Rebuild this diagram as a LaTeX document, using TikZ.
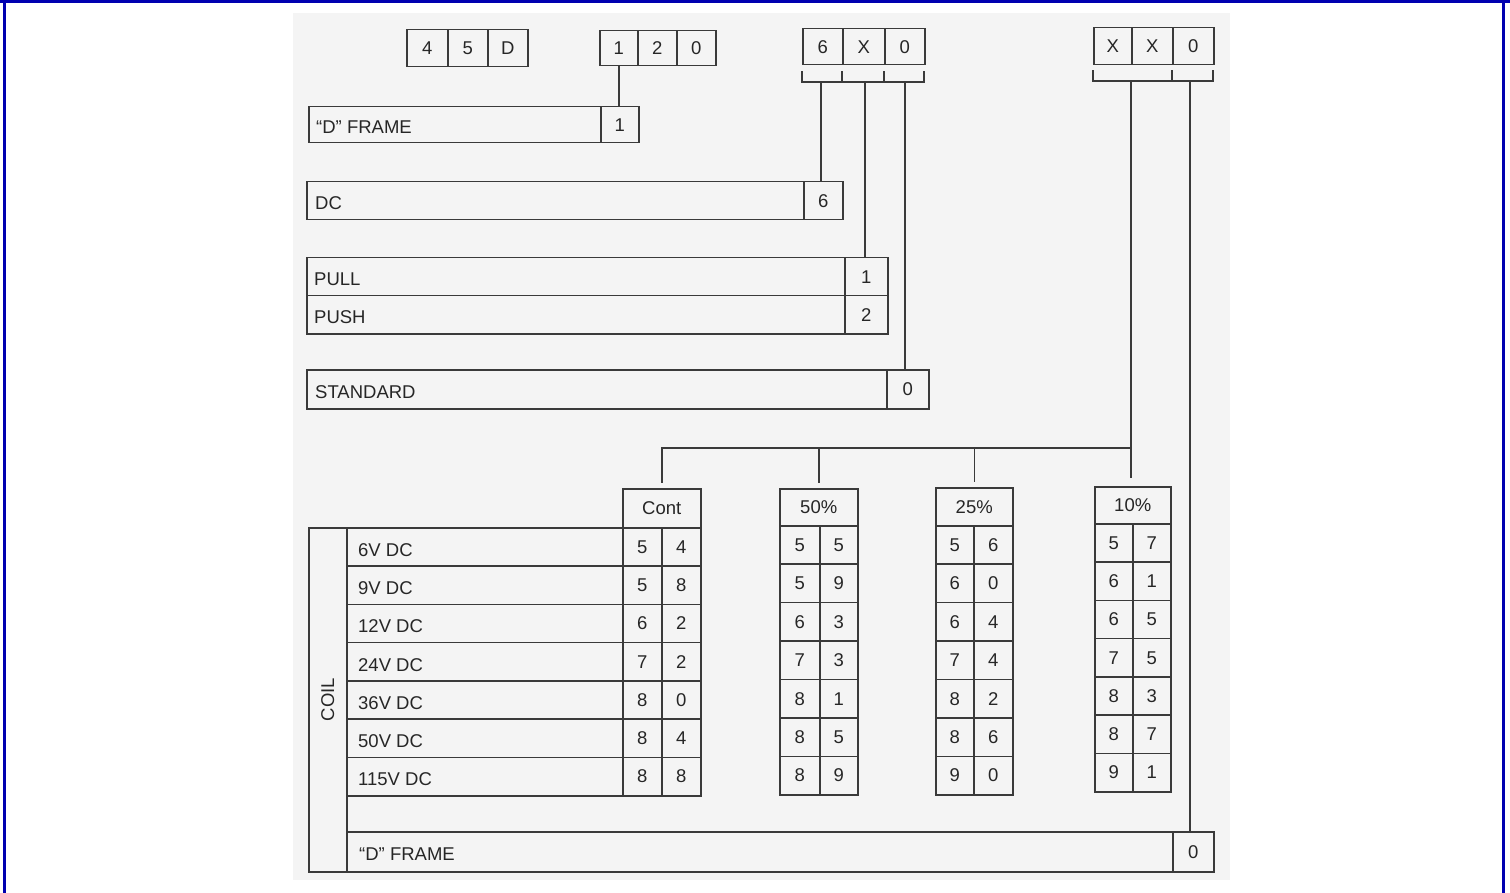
\documentclass[tikz,border=0pt]{standalone}
\usepackage{fontspec}
\setmainfont{Liberation Sans}
\definecolor{ink}{HTML}{3A3A3A}
\definecolor{textink}{HTML}{262626}
\definecolor{frameblue}{HTML}{0000B0}
\definecolor{paper}{HTML}{F4F4F4}
\tikzset{
  wire/.style={draw=ink, line width=1.5pt, line cap=rect},
  cell/.style={draw=ink, line width=1.5pt, rectangle, inner sep=0pt, anchor=north west,
    text=textink, font=\fontsize{18.5}{20}\selectfont},
  lab/.style={text=textink, inner sep=0pt, anchor=west, font=\fontsize{18.5}{20}\selectfont},
}
% box from (x1,y1) to (x2,y2), named #1, text #6
\newcommand\cbox[6]{\node[cell, minimum width={(#4)-(#2)}, minimum height={(#5)-(#3)}] (#1) at (#2,#3) {#6};}
% data table: name, x1, xmid, x2, top, header bottom, bottom, header, pairs
\newcommand\dtable[9]{%
  \cbox{#1h}{#2}{#5}{#4}{#6}{#8}
  \foreach \va/\vb [count=\i from 0] in {#9} {
    \pgfmathsetmacro\ya{#6+\i*(#7-#6)/7}
    \pgfmathsetmacro\yb{#6+(\i+1)*(#7-#6)/7}
    \cbox{#1-\i-a}{#2}{\ya}{#3}{\yb}{\va}
    \cbox{#1-\i-b}{#3}{\ya}{#4}{\yb}{\vb}
  }}
\begin{document}
\begin{tikzpicture}[x=1pt,y=-1pt]
\useasboundingbox (0,0) rectangle (1510,893);
% background and frame
\fill[white] (0,0) rectangle (1510,893);
\fill[paper] (293,13) rectangle (1230,880);
\fill[frameblue] (0,0) rectangle (1510,3);
\fill[frameblue] (3,0) rectangle (6,893);
\fill[frameblue] (1502,0) rectangle (1505,893);

% top code boxes
\cbox{b1a}{406}{29}{447}{66}{4}
\cbox{b1b}{447}{29}{487}{66}{5}
\cbox{b1c}{487}{29}{527}{66}{D}
\cbox{b2a}{599}{30}{637}{65}{1}
\cbox{b2b}{637}{30}{676}{65}{2}
\cbox{b2c}{676}{30}{715}{65}{0}
\cbox{b3a}{802}{28}{842}{64}{6}
\cbox{b3b}{842}{28}{884}{64}{X}
\cbox{b3c}{884}{28}{924}{64}{0}
\cbox{b4a}{1093}{27}{1131}{64}{X}
\cbox{b4b}{1131}{27}{1172}{64}{X}
\cbox{b4c}{1172}{27}{1213}{64}{0}

% brackets
\coordinate (br3) at (802,82);
\coordinate (br4) at (1093,81);
\draw[wire] (802,72) -- (br3) -- (924,82) -- (924,72);
\draw[wire] (842,72) -- (842,82);
\draw[wire] (884,72) -- (884,82);
\draw[wire] (1093,71) -- (br4) -- (1213,81) -- (1213,71);
\draw[wire] (1172,71) -- (1172,81);

% option boxes
\cbox{fr1}{308}{106}{600}{142}{}
\cbox{fr1n}{600}{106}{638}{142}{1}
\node[lab] (fr1t) at ([xshift=8pt,yshift=-2pt]fr1.west) {“D” FRAME};

\cbox{dc}{306}{181}{803}{219}{}
\cbox{dcn}{803}{181}{842}{219}{6}
\node[lab] (dct) at ([xshift=9pt,yshift=-2pt]dc.west) {DC};

\cbox{pull}{306}{257}{844}{295}{}
\cbox{pulln}{844}{257}{887}{295}{1}
\node[lab] (pullt) at ([xshift=8pt,yshift=-2pt]pull.west) {PULL};
\cbox{push}{306}{295}{844}{333}{}
\cbox{pushn}{844}{295}{887}{333}{2}
\node[lab] (pusht) at ([xshift=8pt,yshift=-2pt]push.west) {PUSH};

\cbox{std}{306}{369}{886}{408}{}
\cbox{stdn}{886}{369}{928}{408}{0}
\node[lab] (stdt) at ([xshift=9pt,yshift=-3pt]std.west) {STANDARD};

% connectors from code digits
\draw[wire] (b2a.south) -- (b2a.south |- fr1n.north);
\coordinate (k3a) at (821,82);
\coordinate (k3b) at (865,82);
\coordinate (k3c) at (905,82);
\draw[wire] (k3a) -- (k3a |- dcn.north);
\draw[wire] (k3b) -- (k3b |- pulln.north);
\draw[wire] (k3c) -- (k3c |- stdn.north);

% duty-cycle tables
\dtable{cont}{622}{661}{700}{488}{527}{795}{Cont}{5/4,5/8,6/2,7/2,8/0,8/4,8/8}
\dtable{fif}{779}{819}{857}{488}{525}{794}{50\%}{5/5,5/9,6/3,7/3,8/1,8/5,8/9}
\dtable{twf}{935}{973}{1012}{487}{525}{794}{25\%}{5/6,6/0,6/4,7/4,8/2,8/6,9/0}
\dtable{ten}{1094}{1132}{1170}{486}{523}{791}{10\%}{5/7,6/1,6/5,7/5,8/3,8/7,9/1}

% coil block
\cbox{coil}{308}{527}{346}{871}{}
\node[text=textink, inner sep=0pt, rotate=90, font=\fontsize{18.5}{20}\selectfont] (coilt) at (coil.center) {COIL};
\foreach \t [count=\i from 0] in {6V DC,9V DC,12V DC,24V DC,36V DC,50V DC,115V DC} {
  \pgfmathsetmacro\ya{527+\i*(795-527)/7}
  \pgfmathsetmacro\yb{527+(\i+1)*(795-527)/7}
  \cbox{cr-\i}{346}{\ya}{622}{\yb}{}
  \node[lab] (crt-\i) at ([xshift=12pt,yshift=-3pt]cr-\i.west) {\t};
}
\cbox{fr0}{346}{831}{1172}{871}{}
\cbox{fr0n}{1172}{831}{1213}{871}{0}
\node[lab] (fr0t) at ([xshift=13pt,yshift=-2pt]fr0.west) {“D” FRAME};

% bus to tables
\coordinate (bus) at (0,448);
\coordinate (k4a) at (1131,81);
\coordinate (k4b) at (1190,81);
\coordinate (tenTop) at ([yshift=9pt]tenh.north);
\draw[wire] (k4a) -- (k4a |- tenTop);
\draw[wire] (conth.north |- bus) -- (k4a |- bus);
\foreach \nn in {conth,fifh,twfh} {
  \coordinate (\nn-top) at ([yshift=6pt]\nn.north);
  \draw[wire] (\nn.north |- bus) -- (\nn-top);
}
\draw[wire] (k4b) -- (k4b |- fr0n.north);
\end{tikzpicture}
\end{document}
